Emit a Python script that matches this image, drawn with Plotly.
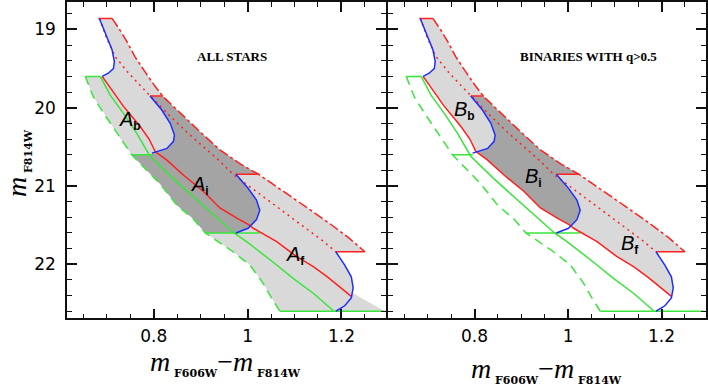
import plotly.graph_objects as go

# values: colour = m_F606W - m_F814W, mag = m_F814W

# MS fiducial (red solid)
ms_col = [0.690, 0.714, 0.735, 0.753, 0.771, 0.790, 0.803, 0.828, 0.863, 0.906,
          0.941, 0.977, 1.004, 1.012, 1.062, 1.104, 1.140, 1.170, 1.196, 1.221]
ms_mag = [19.60, 19.80, 19.98, 20.11, 20.24, 20.40, 20.56, 20.67, 20.86, 21.07,
          21.28, 21.41, 21.50, 21.54, 21.71, 21.90, 22.03, 22.16, 22.29, 22.41]

# equal-mass binary sequence (red dotted)
eq_col = [0.684, 0.700, 0.718, 0.745, 0.770, 0.792, 0.830, 0.870, 0.910, 0.940,
          0.969, 1.020, 1.070, 1.120, 1.160, 1.188]
eq_mag = [18.86, 19.12, 19.35, 19.55, 19.71, 19.85, 20.08, 20.31, 20.52, 20.68,
          20.85, 21.08, 21.30, 21.53, 21.70, 21.84]

# red limit (red dash-dot)
red_col = [0.711, 0.728, 0.743, 0.760, 0.781, 0.803, 0.820, 0.856, 0.899, 0.941,
           0.985, 1.023, 1.075, 1.125, 1.175, 1.215, 1.250]
red_mag = [18.86, 19.01, 19.16, 19.35, 19.54, 19.73, 19.86, 20.07, 20.31, 20.54,
           20.72, 20.85, 21.07, 21.27, 21.48, 21.66, 21.84]

# blue limit (green solid)
gs_col = [0.686, 0.707, 0.735, 0.764, 0.792, 0.815, 0.840, 0.868, 0.900, 0.934,
          0.971, 1.000, 1.026, 1.060, 1.097, 1.140, 1.184]
gs_mag = [19.60, 19.84, 20.07, 20.33, 20.62, 20.76, 20.90, 21.05, 21.22, 21.40,
          21.60, 21.72, 21.84, 22.00, 22.18, 22.37, 22.60]

# outer blue limit (green dashed)
gd_col = [0.654, 0.671, 0.693, 0.714, 0.735, 0.753, 0.785, 0.813, 0.850, 0.884,
          0.910, 0.940, 0.969, 1.005, 1.033, 1.050, 1.062, 1.069]
gd_mag = [19.60, 19.86, 20.07, 20.26, 20.45, 20.60, 20.80, 20.97, 21.25, 21.42,
          21.60, 21.72, 21.84, 22.01, 22.24, 22.42, 22.54, 22.60]

# binary tracks (blue)
trk1_col = [0.684, 0.700, 0.711, 0.716, 0.714, 0.703, 0.690]
trk1_mag = [18.86, 19.09, 19.26, 19.41, 19.50, 19.56, 19.60]
trk2_col = [0.792, 0.817, 0.835, 0.844, 0.842, 0.828, 0.796]
trk2_mag = [19.85, 20.03, 20.20, 20.35, 20.43, 20.52, 20.58]
trk3_col = [0.975, 1.001, 1.019, 1.026, 1.019, 1.001, 0.975]
trk3_mag = [20.85, 21.03, 21.18, 21.31, 21.43, 21.54, 21.60]
trk4_col = [1.188, 1.207, 1.221, 1.225, 1.221, 1.207, 1.188]
trk4_mag = [21.84, 22.01, 22.16, 22.30, 22.43, 22.53, 22.60]
tracks = [(trk1_col, trk1_mag), (trk2_col, trk2_mag), (trk3_col, trk3_mag), (trk4_col, trk4_mag)]

# magnitude limits (horizontal segments)
rlim_mag = [18.86, 19.85, 20.85, 21.84]
rlim_col0 = [0.682, 0.792, 0.975, 1.188]
rlim_col1 = [0.711, 0.820, 1.023, 1.250]
glim_mag = [19.60, 20.60, 21.60, 22.60]
glim_col0 = [0.654, 0.753, 0.910, 1.069]
glim_col1 = [0.686, 0.796, 1.026, 1.292]

# faint-end wedge of the shaded area (left panel)
wedge_col = [1.225, 1.292]
wedge_mag = [22.37, 22.60]

x_ticks = [0.8, 1.0, 1.2]
x_ticktext = ["0.8", "1", "1.2"]
y_ticks = [19, 20, 21, 22]

# region labels
region_names = ["A", "A", "A", "B", "B", "B"]
region_subs = ["b", "i", "f", "b", "i", "f"]
region_col = [0.750, 0.899, 1.103, 0.778, 0.926, 1.133]
region_mag = [20.16, 20.99, 21.89, 20.03, 20.89, 21.75]

RED = "#ff2020"
GREEN = "#3ae43a"
BLUE = "#1f2eff"
LIGHT = "#d9d9d9"
DARK = "#a4a4a4"


def seg(cols, mags, lo, hi, rev=False):
    pts = [(c, m) for c, m in zip(cols, mags) if lo <= m <= hi]
    return pts[::-1] if rev else pts


def poly(pts, color, xa, ya):
    return go.Scatter(x=[p[0] for p in pts], y=[p[1] for p in pts], fill="toself",
                      fillcolor=color, mode="lines", line=dict(width=0),
                      hoverinfo="skip", xaxis=xa, yaxis=ya)


def hsegs(c0, c1, mags):
    xs, ys = [], []
    for a, b, m in zip(c0, c1, mags):
        xs += [a, b, None]
        ys += [m, m, None]
    return xs, ys


fig = go.Figure()

# --- shaded regions ---
light_a = ([(rlim_col0[0], rlim_mag[0])] + seg(red_col, red_mag, 18.86, 21.84)
           + [(rlim_col0[3], rlim_mag[3])] + seg(trk4_col, trk4_mag, 21.84, 22.30)
           + list(zip(wedge_col, wedge_mag)) + [(glim_col0[3], glim_mag[3])]
           + seg(gd_col, gd_mag, 19.60, 22.60, rev=True) + [(glim_col1[0], glim_mag[0])]
           + seg(trk1_col, trk1_mag, 18.86, 19.60, rev=True))
dark_a = ([(rlim_col0[1], rlim_mag[1])] + seg(red_col, red_mag, 19.86, 20.85)
          + [(rlim_col0[2], rlim_mag[2])] + list(zip(trk3_col, trk3_mag))
          + [(glim_col0[2], glim_mag[2])] + seg(gd_col, gd_mag, 20.60, 21.60, rev=True)
          + [(glim_col1[1], glim_mag[1])] + seg(trk2_col, trk2_mag, 19.85, 20.60, rev=True))
light_b = ([(rlim_col0[0], rlim_mag[0])] + seg(red_col, red_mag, 18.86, 21.84)
           + [(rlim_col0[3], rlim_mag[3])] + seg(trk4_col, trk4_mag, 21.84, 22.30)
           + seg(ms_col, ms_mag, 19.60, 22.41, rev=True)
           + seg(trk1_col, trk1_mag, 18.86, 19.60, rev=True))
dark_b = ([(rlim_col0[1], rlim_mag[1])] + seg(red_col, red_mag, 19.86, 20.85)
          + [(rlim_col0[2], rlim_mag[2])] + seg(trk3_col, trk3_mag, 20.85, 21.43)
          + seg(ms_col, ms_mag, 20.56, 21.50, rev=True)
          + seg(trk2_col, trk2_mag, 19.85, 20.60, rev=True))

fig.add_trace(poly(light_a, LIGHT, "x", "y"))
fig.add_trace(poly(dark_a, DARK, "x", "y"))
fig.add_trace(poly(light_b, LIGHT, "x2", "y2"))
fig.add_trace(poly(dark_b, DARK, "x2", "y2"))

# --- lines, same in both panels ---
gx, gy = hsegs(glim_col0, glim_col1, glim_mag)
rx, ry = hsegs(rlim_col0, rlim_col1, rlim_mag)
for xa, ya in [("x", "y"), ("x2", "y2")]:
    common = dict(mode="lines", hoverinfo="skip", xaxis=xa, yaxis=ya)
    fig.add_trace(go.Scatter(x=gd_col, y=gd_mag, line=dict(color=GREEN, width=1.5, dash="9px,6px"), **common))
    fig.add_trace(go.Scatter(x=gs_col, y=gs_mag, line=dict(color=GREEN, width=1.5), **common))
    fig.add_trace(go.Scatter(x=gx, y=gy, line=dict(color=GREEN, width=1.5), **common))
    fig.add_trace(go.Scatter(x=ms_col, y=ms_mag, line=dict(color=RED, width=1.5), **common))
    fig.add_trace(go.Scatter(x=eq_col, y=eq_mag, line=dict(color=RED, width=1.5, dash="2px,4px"), **common))
    fig.add_trace(go.Scatter(x=red_col, y=red_mag, line=dict(color=RED, width=1.5, dash="10px,3px,3px,3px"), **common))
    fig.add_trace(go.Scatter(x=rx, y=ry, line=dict(color=RED, width=1.5), **common))
    for tc, tm in tracks:
        fig.add_trace(go.Scatter(x=tc, y=tm, line=dict(color=BLUE, width=1.5), **common))

# --- axes ---
xr = [0.615, 1.295]
yr = [22.69, 18.65]
ax = dict(range=xr, showline=True, linecolor="#111", linewidth=1.5, mirror="allticks",
          ticks="inside", ticklen=10, tickwidth=1.5, tickcolor="#111",
          tickvals=x_ticks, ticktext=x_ticktext, showgrid=False, zeroline=False,
          minor=dict(dtick=0.05, tick0=0.8, ticks="inside", ticklen=5, tickwidth=1.2, tickcolor="#111"),
          tickfont=dict(family="DejaVu Sans", size=17, color="black"), ticklabelstandoff=2)
ay = dict(range=yr, showline=True, linecolor="#111", linewidth=1.5, mirror="allticks",
          ticks="inside", ticklen=10, tickwidth=1.5, tickcolor="#111",
          tickvals=y_ticks, showgrid=False, zeroline=False,
          minor=dict(dtick=0.2, tick0=19, ticks="inside", ticklen=5, tickwidth=1.2, tickcolor="#111"),
          tickfont=dict(family="DejaVu Sans", size=17, color="black"), ticklabelstandoff=6)

W, H = 708, 386
ydom = [1 - 318.3 / H, 1 - 2 / H]
fig.update_layout(
    width=W, height=H, margin=dict(l=0, r=0, t=0, b=0),
    paper_bgcolor="white", plot_bgcolor="white", showlegend=False,
    xaxis=dict(ax, domain=[67 / W, 386 / W], anchor="y"),
    yaxis=dict(ay, domain=ydom, anchor="x"),
    xaxis2=dict(ax, domain=[388 / W, 706 / W], anchor="y2"),
    yaxis2=dict(ay, domain=ydom, anchor="x2", showticklabels=False),
)

sub = '<sub><b><span style="font-family:DejaVu Serif;font-size:11px"> {}</span></b></sub>'
xtitle = "<i>m</i>" + sub.format("F606W") + "−<i>m</i>" + sub.format("F814W")
ytitle = "<i>m</i>" + sub.format("F814W")
tfont = dict(family="Liberation Serif", size=28, color="black")
paper = dict(xref="paper", yref="paper", showarrow=False, xanchor="center", yanchor="middle")
fig.add_annotation(text=xtitle, x=225 / W, y=1 - 363 / H, font=tfont, **paper)
fig.add_annotation(text=xtitle, x=546 / W, y=1 - 370 / H, font=tfont, **paper)
fig.add_annotation(text=ytitle, x=18 / W, y=1 - 163 / H, font=tfont, textangle=-90, **paper)

# panel captions
cfont = dict(family="Liberation Serif", size=13, color="black")
fig.add_annotation(text="<b>ALL STARS</b>", x=0.966, y=19.35, xref="x", yref="y",
                   showarrow=False, font=cfont)
fig.add_annotation(text="<b>BINARIES WITH q>0.5</b>", x=1.043, y=19.34, xref="x2", yref="y2",
                   showarrow=False, font=cfont)

lfont = dict(family="Liberation Sans", size=20, color="black")
lsub = '<sub><b><span style="font-size:12px">{}</span></b></sub>'
for k in range(len(region_names)):
    xa, ya = ("x", "y") if k < 3 else ("x2", "y2")
    fig.add_annotation(text="<i>" + region_names[k] + "</i>" + lsub.format(region_subs[k]),
                       x=region_col[k], y=region_mag[k], xref=xa, yref=ya,
                       showarrow=False, font=lfont)

# the page has a default 8px body margin; drop it so the figure sits at (0, 0)
fig.write_html("out.html", config={"displayModeBar": False},
               post_script="document.body.style.margin='0';")
